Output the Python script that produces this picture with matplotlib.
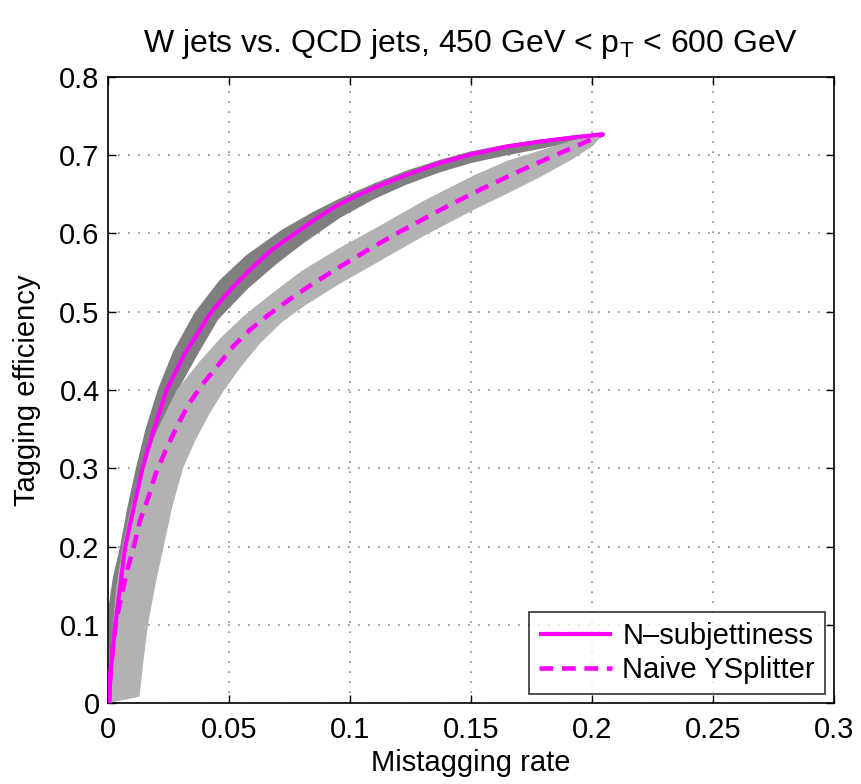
import numpy as np
import matplotlib
matplotlib.use('Agg')
import matplotlib.pyplot as plt

plt.rcParams['font.family'] = ['Liberation Sans', 'DejaVu Sans']
plt.rcParams['mathtext.fontset'] = 'custom'
plt.rcParams['mathtext.rm'] = 'Liberation Sans'
plt.rcParams['mathtext.default'] = 'regular'

# Curvas centrales (tasa de mistag, eficiencia)
nsub_x = [0.0004, 0.0012, 0.0029, 0.005, 0.007, 0.0105, 0.0142, 0.018, 0.0242, 0.0318,
          0.0428, 0.0511, 0.0594, 0.0676, 0.0773, 0.0865, 0.0959, 0.1096, 0.1234, 0.137,
          0.15, 0.1647, 0.1785, 0.1923, 0.2047]
nsub_y = [0.0, 0.045, 0.097, 0.148, 0.198, 0.248, 0.299, 0.340, 0.400, 0.447,
          0.500, 0.530, 0.556, 0.579, 0.600, 0.620, 0.638, 0.658, 0.675, 0.690,
          0.701, 0.711, 0.7175, 0.7227, 0.727]

ysplit_x = [0.0004, 0.0012, 0.0022, 0.0036, 0.0057, 0.0081, 0.0109, 0.0132, 0.0167, 0.0197,
            0.0236, 0.0284, 0.0332, 0.0387, 0.0456, 0.0518, 0.0587, 0.0663, 0.0745, 0.0835,
            0.0924, 0.1004, 0.1096, 0.1193, 0.1282, 0.1372, 0.1461, 0.1551, 0.1647, 0.1737,
            0.1833, 0.1923, 0.2047]
ysplit_y = [0.0, 0.045, 0.077, 0.109, 0.139, 0.171, 0.203, 0.233, 0.263, 0.293,
            0.321, 0.353, 0.381, 0.406, 0.432, 0.456, 0.477, 0.496, 0.5145, 0.5335,
            0.551, 0.566, 0.583, 0.600, 0.615, 0.630, 0.644, 0.658, 0.672, 0.685,
            0.698, 0.710, 0.727]

# Bandas de incertidumbre (borde superior/izquierdo y borde inferior/derecho)
nsub_up_x = [0.0, 0.002, 0.005, 0.008, 0.0115, 0.0155, 0.0205, 0.027, 0.036, 0.046,
             0.057, 0.072, 0.085, 0.0959, 0.11, 0.123, 0.137, 0.15, 0.165, 0.18,
             0.193, 0.2054]
nsub_up_y = [0.118, 0.16, 0.2, 0.25, 0.3, 0.35, 0.4, 0.45, 0.5, 0.54,
             0.572, 0.605, 0.628, 0.645, 0.664, 0.68, 0.694, 0.705, 0.714, 0.7205,
             0.7255, 0.729]
nsub_lo_x = [0.001, 0.004, 0.008, 0.012, 0.0175, 0.022, 0.028, 0.037, 0.0455, 0.058,
             0.070, 0.081, 0.0959, 0.11, 0.123, 0.137, 0.15, 0.165, 0.18, 0.193,
             0.2054]
nsub_lo_y = [0.0, 0.08, 0.17, 0.23, 0.3, 0.35, 0.395, 0.445, 0.49, 0.53,
             0.562, 0.588, 0.620, 0.644, 0.662, 0.678, 0.69, 0.7, 0.709, 0.717,
             0.725]

ysplit_up_x = [0.0005, 0.001, 0.002, 0.0035, 0.006, 0.0095, 0.014, 0.0205, 0.0284, 0.038,
               0.047, 0.0566, 0.068, 0.080, 0.0959, 0.113, 0.130, 0.151, 0.165, 0.1785,
               0.192, 0.2047]
ysplit_up_y = [0.0, 0.05, 0.1, 0.15, 0.2, 0.25, 0.3, 0.35, 0.4, 0.437,
               0.468, 0.496, 0.524, 0.552, 0.582, 0.611, 0.641, 0.674, 0.693, 0.706,
               0.719, 0.728]
ysplit_lo_x = [0.0017, 0.013, 0.0145, 0.0165, 0.0195, 0.023, 0.0265, 0.031, 0.036, 0.042,
               0.048, 0.055, 0.063, 0.072, 0.0814, 0.0959, 0.113, 0.130, 0.151, 0.165,
               0.1785, 0.192, 0.2005]
ysplit_lo_y = [0.001, 0.008, 0.05, 0.1, 0.15, 0.2, 0.25, 0.3, 0.335, 0.37,
               0.40, 0.43, 0.46, 0.487, 0.508, 0.536, 0.566, 0.596, 0.630, 0.651,
               0.672, 0.695, 0.712]

xticks = [0, 0.05, 0.1, 0.15, 0.2, 0.25, 0.3]
xtick_labels = ['0', '0.05', '0.1', '0.15', '0.2', '0.25', '0.3']
yticks = [0, 0.1, 0.2, 0.3, 0.4, 0.5, 0.6, 0.7, 0.8]
ytick_labels = ['0', '0.1', '0.2', '0.3', '0.4', '0.5', '0.6', '0.7', '0.8']

fig = plt.figure(figsize=(8.62, 7.84), dpi=100)
ax = fig.add_axes([0.1253, 0.1033, 0.8422, 0.7985])

# Bandas
ax.fill(np.concatenate([nsub_up_x, nsub_lo_x[::-1]]),
        np.concatenate([nsub_up_y, nsub_lo_y[::-1]]),
        color='#7f7f7f', lw=0, zorder=2)
ax.fill(np.concatenate([ysplit_up_x, ysplit_lo_x[::-1]]),
        np.concatenate([ysplit_up_y, ysplit_lo_y[::-1]]),
        color='#b2b2b2', lw=0, zorder=3)

# Curvas
ax.plot(nsub_x, nsub_y, color='#ff00ff', lw=3.0, label='N\u2013subjettiness',
        solid_capstyle='butt', solid_joinstyle='round', zorder=4)
ax.plot(ysplit_x, ysplit_y, color='#ff00ff', lw=3.3, dashes=(3.0, 1.9),
        label='Naive YSplitter', zorder=4)

ax.set_xlim(0, 0.3)
ax.set_ylim(0, 0.8)
ax.set_xticks(xticks)
ax.set_xticklabels(xtick_labels)
ax.set_yticks(yticks)
ax.set_yticklabels(ytick_labels)
ax.tick_params(direction='in', length=6, width=1, top=True, right=True,
               labelsize=21)
ax.tick_params(axis='x', pad=9)
ax.tick_params(axis='y', pad=6)
for s in ax.spines.values():
    s.set_linewidth(1.2)

ax.grid(True, color='#888888', linestyle=(0, (1, 5)), linewidth=1.2)
ax.set_axisbelow(True)

ax.set_xlabel('Mistagging rate', fontsize=21, labelpad=4)
ax.set_ylabel('Tagging efficiency', fontsize=21, labelpad=13)
ax.set_title('W jets vs. QCD jets, 450 GeV < $p_T$ < 600 GeV', fontsize=23, pad=18)

leg = ax.legend(loc='lower right', fontsize=21, frameon=True, fancybox=False,
                edgecolor='black', handlelength=2.5, borderaxespad=0.3,
                borderpad=0.35, labelspacing=0.2, handletextpad=0.35)
leg.get_frame().set_linewidth(1.2)

fig.savefig('out.png', dpi=100)
plt.close(fig)
